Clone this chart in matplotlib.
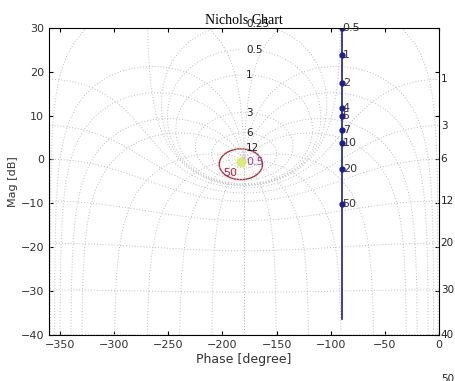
import numpy as np
import matplotlib
matplotlib.use('Agg')
import matplotlib.pyplot as plt
from matplotlib.patches import Ellipse

# DATOS
# contornos M (dB de lazo cerrado) y N (fase de lazo cerrado, grados)
m_db = [12, 6, 3, 1, 0.5, 0.25, 0, -1, -3, -6, -12, -20, -30, -40, -50]
n_deg = [-1, -5, -10, -20, -30, -60, -90, -120, -150, -180]

# respuesta del sistema (fase constante -90)
fase_sis = -90
mag_linea = [30, -36.3]
freq_etq = ['0.5', '1', '2', '4', '5', '7', '10', '20', '50']
freq_mag = [30, 23.7, 17.5, 11.7, 10, 6.8, 3.8, -2.2, -10.2]

# elipse roja y punto critico
elipse_centro = (-183, -1.1)
elipse_ancho = 40
elipse_alto = 7
punto = (-183, -0.5)

GRIS = '#bcbcbc'
ESTILO = (0, (1, 2))

fig = plt.figure(figsize=(4.55, 3.81), dpi=100)
ax = fig.add_axes([0.108, 0.121, 0.857, 0.806])

# CONTORNOS M
psi = np.linspace(0, -2 * np.pi, 1441)[1:-1]
for db in m_db:
    m = 10 ** (db / 20)
    T = m * np.exp(1j * psi)
    L = T / (1 - T)
    g = 20 * np.log10(np.abs(L))
    if m <= 1:
        ph = np.degrees(psi) - np.angle(1 - T, deg=True)
    else:
        ph = np.angle(L, deg=True)
        ph = np.where(ph > 0, ph - 360, ph)
    ax.plot(ph, g, color=GRIS, lw=0.7, ls=ESTILO)
    if db == 0:
        continue
    etq = '%g' % abs(db)
    if m > 1:
        ax.text(-178, g.max(), etq, fontsize=7.5, color='#222222',
                ha='left', va='center', clip_on=False)
    else:
        ax.text(1.5, g[0], etq, fontsize=7.5, color='#222222',
                ha='left', va='center', clip_on=False)

# CONTORNOS N
mm = np.logspace(-3, 3, 800)
for d in n_deg:
    T = mm * np.exp(1j * np.radians(d))
    L = T / (1 - T)
    g = 20 * np.log10(np.abs(L))
    ph = d - np.angle(1 - T, deg=True)
    ax.plot(ph, g, color=GRIS, lw=0.7, ls=ESTILO)
    ax.plot(-360 - ph, g, color=GRIS, lw=0.7, ls=ESTILO)

# elipse y punto
ax.add_patch(Ellipse(elipse_centro, elipse_ancho, elipse_alto, fill=False,
                     ec='#b0303a', lw=1.0))
ax.plot(*punto, 'o', ms=6, color='#d8ec60', alpha=0.85)
ax.text(punto[0] + 5, punto[1], '0.5', color='#9a40b0', fontsize=8, va='center')
ax.text(-199, -3.0, '50', color='#c02040', fontsize=8, va='center')

# SISTEMA
ax.plot([fase_sis, fase_sis], mag_linea, color='#1c1c9c', lw=1.2)
ax.plot([fase_sis] * len(freq_mag), freq_mag, 'o', color='#1c1c9c', ms=3.5)
for etq, y in zip(freq_etq, freq_mag):
    ax.text(fase_sis + 1, y, etq, fontsize=8, color='#333333',
            ha='left', va='center', clip_on=False)

ax.set_xlim(-360, 0)
ax.set_ylim(-40, 30)
ax.set_xticks(np.arange(-350, 1, 50))
ax.set_yticks(np.arange(-40, 31, 10))
ax.tick_params(direction='in', top=True, right=True, labelsize=8,
               labelcolor='#333333', length=3)
ax.set_xlabel('Phase [degree]', fontsize=9, color='#333333', labelpad=2)
ax.set_ylabel('Mag [dB]', fontsize=8, color='#333333', labelpad=2)
ax.set_title('Nichols Chart', fontsize=10, family='Liberation Serif', pad=3)

fig.savefig('out.png', dpi=100)
